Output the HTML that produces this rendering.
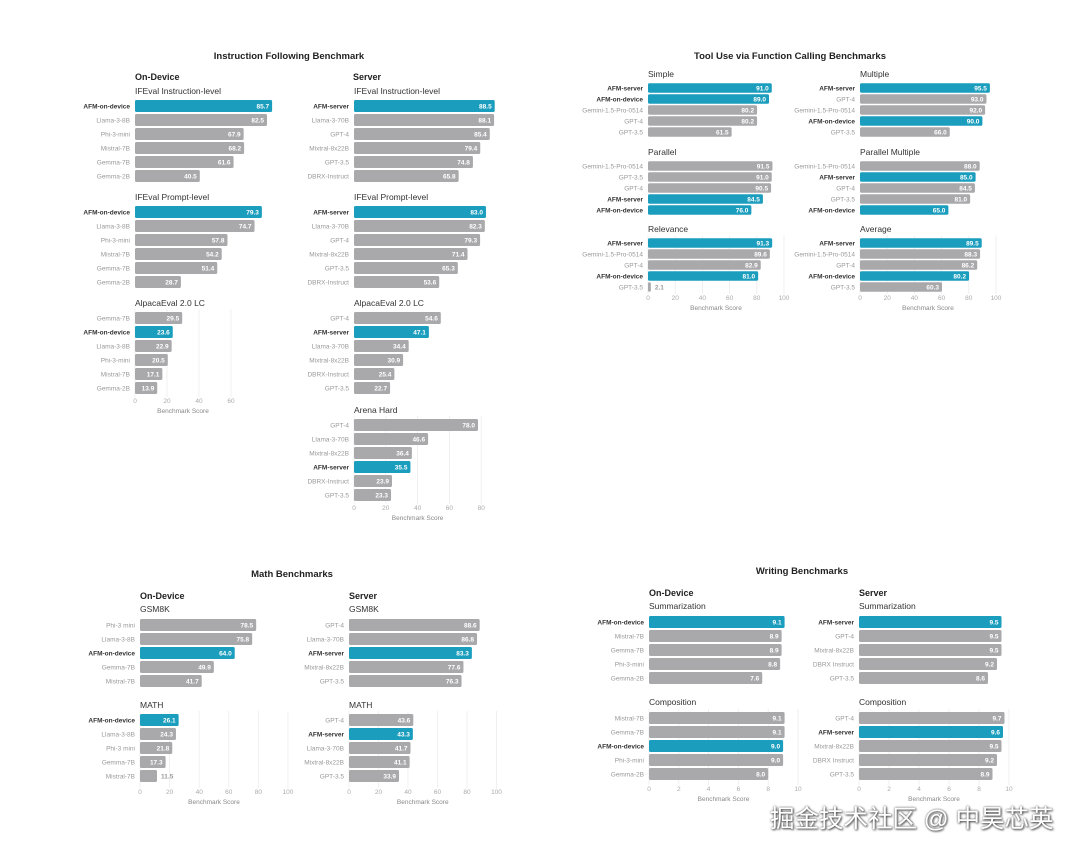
<!DOCTYPE html>
<html><head><meta charset="utf-8">
<style>
body{margin:0;background:#fff;width:1080px;height:851px;overflow:hidden;position:relative;font-family:"Liberation Sans","Noto Sans CJK SC",sans-serif}
svg{position:absolute;left:0;top:0}
.wm{position:absolute;left:770px;top:800px;font-size:24.5px;color:#fff;text-shadow:0 0 2px #555,1px 1px 2px #444;font-family:"Liberation Sans","Noto Sans CJK SC",sans-serif;white-space:nowrap}
</style></head><body>
<svg id="c" width="1080" height="851" xmlns="http://www.w3.org/2000/svg"></svg>
<div class="wm">掘金技术社区 @ 中昊芯英</div>
<script>
// ---- data ----
const ifInstDevCats=["AFM-on-device","Llama-3-8B","Phi-3-mini","Mistral-7B","Gemma-7B","Gemma-2B"];
const ifInstDevVals=[85.7,82.5,67.9,68.2,61.6,40.5];
const ifPromptDevCats=["AFM-on-device","Llama-3-8B","Phi-3-mini","Mistral-7B","Gemma-7B","Gemma-2B"];
const ifPromptDevVals=[79.3,74.7,57.8,54.2,51.4,28.7];
const alpacaDevCats=["Gemma-7B","AFM-on-device","Llama-3-8B","Phi-3-mini","Mistral-7B","Gemma-2B"];
const alpacaDevVals=[29.5,23.6,22.9,20.5,17.1,13.9];
const ifInstSrvCats=["AFM-server","Llama-3-70B","GPT-4","Mixtral-8x22B","GPT-3.5","DBRX-Instruct"];
const ifInstSrvVals=[88.5,88.1,85.4,79.4,74.8,65.8];
const ifPromptSrvCats=["AFM-server","Llama-3-70B","GPT-4","Mixtral-8x22B","GPT-3.5","DBRX-Instruct"];
const ifPromptSrvVals=[83.0,82.3,79.3,71.4,65.3,53.6];
const alpacaSrvCats=["GPT-4","AFM-server","Llama-3-70B","Mixtral-8x22B","DBRX-Instruct","GPT-3.5"];
const alpacaSrvVals=[54.6,47.1,34.4,30.9,25.4,22.7];
const arenaCats=["GPT-4","Llama-3-70B","Mixtral-8x22B","AFM-server","DBRX-Instruct","GPT-3.5"];
const arenaVals=[78.0,46.6,36.4,35.5,23.9,23.3];
const simpleCats=["AFM-server","AFM-on-device","Gemini-1.5-Pro-0514","GPT-4","GPT-3.5"];
const simpleVals=[91.0,89.0,80.2,80.2,61.5];
const multipleCats=["AFM-server","GPT-4","Gemini-1.5-Pro-0514","AFM-on-device","GPT-3.5"];
const multipleVals=[95.5,93.0,92.0,90.0,66.0];
const parallelCats=["Gemini-1.5-Pro-0514","GPT-3.5","GPT-4","AFM-server","AFM-on-device"];
const parallelVals=[91.5,91.0,90.5,84.5,76.0];
const parMultCats=["Gemini-1.5-Pro-0514","AFM-server","GPT-4","GPT-3.5","AFM-on-device"];
const parMultVals=[88.0,85.0,84.5,81.0,65.0];
const relevanceCats=["AFM-server","Gemini-1.5-Pro-0514","GPT-4","AFM-on-device","GPT-3.5"];
const relevanceVals=[91.3,89.6,82.9,81.0,2.1];
const averageCats=["AFM-server","Gemini-1.5-Pro-0514","GPT-4","AFM-on-device","GPT-3.5"];
const averageVals=[89.5,88.3,86.2,80.2,60.3];
const gsmDevCats=["Phi-3 mini","Llama-3-8B","AFM-on-device","Gemma-7B","Mistral-7B"];
const gsmDevVals=[78.5,75.8,64.0,49.9,41.7];
const mathDevCats=["AFM-on-device","Llama-3-8B","Phi-3 mini","Gemma-7B","Mistral-7B"];
const mathDevVals=[26.1,24.3,21.8,17.3,11.5];
const gsmSrvCats=["GPT-4","Llama-3-70B","AFM-server","Mixtral-8x22B","GPT-3.5"];
const gsmSrvVals=[88.6,86.8,83.3,77.6,76.3];
const mathSrvCats=["GPT-4","AFM-server","Llama-3-70B","Mixtral-8x22B","GPT-3.5"];
const mathSrvVals=[43.6,43.3,41.7,41.1,33.9];
const sumDevCats=["AFM-on-device","Mistral-7B","Gemma-7B","Phi-3-mini","Gemma-2B"];
const sumDevVals=[9.1,8.9,8.9,8.8,7.6];
const compDevCats=["Mistral-7B","Gemma-7B","AFM-on-device","Phi-3-mini","Gemma-2B"];
const compDevVals=[9.1,9.1,9.0,9.0,8.0];
const sumSrvCats=["AFM-server","GPT-4","Mixtral-8x22B","DBRX Instruct","GPT-3.5"];
const sumSrvVals=[9.5,9.5,9.5,9.2,8.6];
const compSrvCats=["GPT-4","AFM-server","Mixtral-8x22B","DBRX Instruct","GPT-3.5"];
const compSrvVals=[9.7,9.6,9.5,9.2,8.9];
const ticks80=[0,20,40,60,80];
const ticks60=[0,20,40,60];
const ticks100=[0,20,40,60,80,100];
const ticks10=[0,2,4,6,8,10];

// ---- layout ----
const svg=document.getElementById('c');
const NS='http://www.w3.org/2000/svg';
function mk(tag,attrs,txt){const e=document.createElementNS(NS,tag);for(const k in attrs)e.setAttribute(k,attrs[k]);if(txt!==undefined)e.textContent=txt;svg.appendChild(e);return e;}
function txt(x,y,s,size,fill,weight,anchor,name){
  const e=mk('text',{x:x,y:y,'font-size':size,fill:fill,'font-weight':weight||'normal','text-anchor':anchor||'start','font-family':'Liberation Sans, sans-serif'},s);
  
  
  return e;
}
function panel(name,title,cats,vals,x0,scale,y0,pitch,titleY,ticks,tickY,gridH,bh){
  const fx=v=>x0+v*scale;
  const fy=i=>y0+i*pitch;
  txt(x0,titleY,title,8.5,'#333','normal','start',name+'-title');
  if(ticks){
    ticks.forEach(t=>{
      const l=mk('line',{x1:fx(t),x2:fx(t),y1:fy(0)-pitch/2-2,y2:tickY-6,stroke:'#ececec','stroke-width':0.8});
      
      
    });
  }
  cats.forEach((c,i)=>{
    const afm=c.indexOf('AFM')===0;
    const w=Math.max(vals[i]*scale,2);
    const r=mk('rect',{x:x0,y:fy(i)-bh/2,width:w,height:bh,rx:1.5,fill:afm?'#1b9dbd':'#a9a9ac'});
    
    
    txt(x0-5,fy(i)+2.5,c,6.5,afm?'#333':'#999',afm?'bold':'normal','end',name+'-category-label');
    const inside=w>22;
    txt(inside?fx(vals[i])-3:fx(vals[i])+4,fy(i)+2.5,vals[i].toFixed(1),6.5,inside?'#fff':'#999','bold',inside?'end':'start',name+'-value-label');
  });
  if(ticks){
    ticks.forEach(t=>txt(fx(t),tickY,String(t),6.5,'#aaa','normal','middle',name+'-tick'));
    txt(fx((ticks[0]+ticks[ticks.length-1])/2),tickY+10,'Benchmark Score',6.5,'#888','normal','middle',name+'-axis-title');
  }
}
txt(289,59,'Instruction Following Benchmark',9.5,'#222','bold','middle','instruction-title');
txt(790,59,'Tool Use via Function Calling Benchmarks',9.5,'#222','bold','middle','tool-title');
txt(292,577,'Math Benchmarks',9.5,'#222','bold','middle','math-title');
txt(802,574,'Writing Benchmarks',9.5,'#222','bold','middle','writing-title');
[[135,80,'On-Device'],[353,80,'Server'],[140,599,'On-Device'],[349,599,'Server'],[649,596,'On-Device'],[859,596,'Server']].forEach(a=>txt(a[0],a[1],a[2],9,'#222','bold','start','group-header'));

panel('ifeval-inst-device','IFEval Instruction-level',ifInstDevCats,ifInstDevVals,135,1.6,106,14,94,null,0,0,12);
panel('ifeval-prompt-device','IFEval Prompt-level',ifPromptDevCats,ifPromptDevVals,135,1.6,212,14,200,null,0,0,12);
panel('alpaca-device','AlpacaEval 2.0 LC',alpacaDevCats,alpacaDevVals,135,1.6,318,14,306,ticks60,403,0,12);
panel('ifeval-inst-server','IFEval Instruction-level',ifInstSrvCats,ifInstSrvVals,354,1.59,106,14,94,null,0,0,12);
panel('ifeval-prompt-server','IFEval Prompt-level',ifPromptSrvCats,ifPromptSrvVals,354,1.59,212,14,200,null,0,0,12);
panel('alpaca-server','AlpacaEval 2.0 LC',alpacaSrvCats,alpacaSrvVals,354,1.59,318,14,306,null,0,0,12);
panel('arena-hard','Arena Hard',arenaCats,arenaVals,354,1.59,425,14,413,ticks80,510,0,12);
panel('simple','Simple',simpleCats,simpleVals,648,1.36,88,11,77,null,0,0,9.5);
panel('parallel','Parallel',parallelCats,parallelVals,648,1.36,166,11,155,null,0,0,9.5);
panel('relevance','Relevance',relevanceCats,relevanceVals,648,1.36,243,11,232,ticks100,300,0,9.5);
panel('multiple','Multiple',multipleCats,multipleVals,860,1.36,88,11,77,null,0,0,9.5);
panel('parallel-multiple','Parallel Multiple',parMultCats,parMultVals,860,1.36,166,11,155,null,0,0,9.5);
panel('average','Average',averageCats,averageVals,860,1.36,243,11,232,ticks100,300,0,9.5);
panel('gsm8k-device','GSM8K',gsmDevCats,gsmDevVals,140,1.48,625,14,612,null,0,0,12);
panel('math-device','MATH',mathDevCats,mathDevVals,140,1.48,720,14,708,ticks100,794,0,12);
panel('gsm8k-server','GSM8K',gsmSrvCats,gsmSrvVals,349,1.475,625,14,612,null,0,0,12);
panel('math-server','MATH',mathSrvCats,mathSrvVals,349,1.475,720,14,708,ticks100,794,0,12);
panel('summ-device','Summarization',sumDevCats,sumDevVals,649,14.9,622,14,609,null,0,0,12);
panel('comp-device','Composition',compDevCats,compDevVals,649,14.9,718,14,705,ticks10,791,0,12);
panel('summ-server','Summarization',sumSrvCats,sumSrvVals,859,15,622,14,609,null,0,0,12);
panel('comp-server','Composition',compSrvCats,compSrvVals,859,15,718,14,705,ticks10,791,0,12);
</script>
</body></html>
